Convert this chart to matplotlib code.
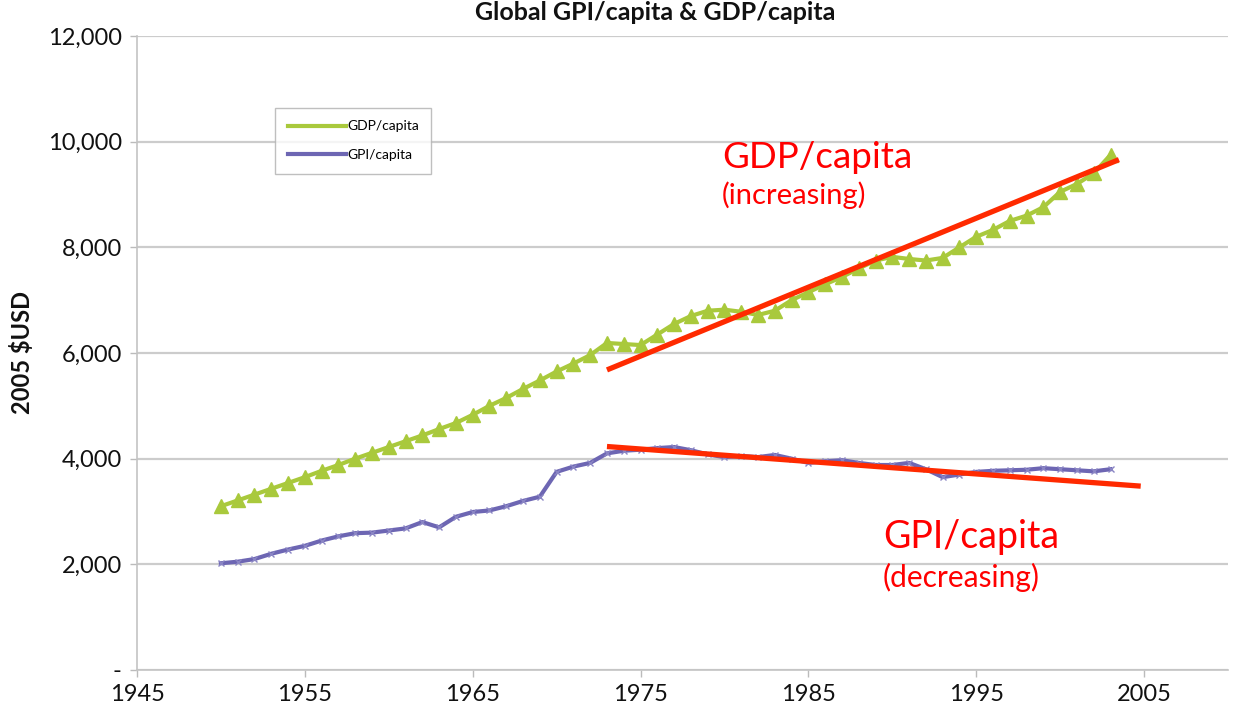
import matplotlib
matplotlib.use("Agg")
import matplotlib.pyplot as plt

years = list(range(1950, 2004))
gdp_per_capita = [3100, 3210, 3320, 3430, 3540, 3650, 3770, 3880, 4000, 4110,
                  4220, 4330, 4440, 4560, 4675, 4830, 5000, 5150, 5320, 5480,
                  5650, 5800, 5960, 6190, 6170, 6150, 6350, 6550, 6700, 6800,
                  6820, 6780, 6720, 6800, 7000, 7150, 7300, 7440, 7600, 7750,
                  7820, 7780, 7750, 7800, 8000, 8200, 8330, 8500, 8600, 8760,
                  9050, 9200, 9400, 9750]
gpi_per_capita = [2020, 2050, 2100, 2200, 2280, 2350, 2450, 2530, 2590, 2600,
                  2640, 2680, 2800, 2700, 2900, 2990, 3020, 3100, 3200, 3280,
                  3750, 3850, 3920, 4100, 4150, 4170, 4200, 4220, 4160, 4080,
                  4030, 4050, 4030, 4070, 4000, 3920, 3950, 3970, 3920, 3880,
                  3880, 3920, 3800, 3650, 3700, 3750, 3770, 3780, 3790, 3820,
                  3800, 3780, 3760, 3800]

gdp_trend_x = [1973.0, 2003.5]
gdp_trend_y = [5680, 9660]
gpi_trend_x = [1973.0, 2004.8]
gpi_trend_y = [4230, 3480]

xticks = [1945, 1955, 1965, 1975, 1985, 1995, 2005]
yticks = [0, 2000, 4000, 6000, 8000, 10000, 12000]
ytick_labels = ['-', '2,000', '4,000', '6,000', '8,000', '10,000', '12,000']

plt.rcParams['font.family'] = ['Lato', 'DejaVu Sans']

W, H = 1241, 705
fig = plt.figure(figsize=(W / 100, H / 100), dpi=100)
fig.patch.set_facecolor('white')
ax = fig.add_axes([137 / W, 1 - 670 / H, (1228 - 137) / W, (670 - 36) / H])

green = '#a9c93c'
purple = '#6d66b3'
red = '#ff2a00'

ax.plot(years, gdp_per_capita, color=green, lw=3, marker='^', ms=10,
        mec=green, mfc=green, label='GDP/capita', zorder=3)
ax.plot(years, gpi_per_capita, color=purple, lw=3, marker='x', ms=5,
        mew=1, mec='#8a85c4', label='GPI/capita', zorder=3)

ax.plot(gdp_trend_x, gdp_trend_y, color=red, lw=3.8, solid_capstyle='butt', zorder=4)
ax.plot(gpi_trend_x, gpi_trend_y, color=red, lw=3.8, solid_capstyle='butt', zorder=4)

ax.set_xlim(1945, 2010)
ax.set_ylim(0, 12000)
ax.set_xticks(xticks)
ax.set_xticklabels([str(x) for x in xticks])
ax.set_yticks(yticks)
ax.set_yticklabels(ytick_labels)
ax.tick_params(axis='both', labelsize=17, colors='#bbbbbb', labelcolor='#111111',
               length=5, width=1)
ax.tick_params(axis='x', pad=5)
ax.tick_params(axis='y', pad=6)
ax.yaxis.grid(True, color='#cccccc', lw=1.6)
ax.set_axisbelow(True)
for s in ['top', 'right']:
    ax.spines[s].set_visible(False)
for s in ['left', 'bottom']:
    ax.spines[s].set_color('#c4c4c4')
    ax.spines[s].set_linewidth(1.2)

ax.set_ylabel('2005 $USD', fontsize=17, fontweight='bold', labelpad=10, color='#111111')

leg = ax.legend(loc='upper left', bbox_to_anchor=((275 - 137) / (1228 - 137), 1 - (108 - 36) / (670 - 36)),
                fontsize=10, frameon=True, fancybox=False, handlelength=4.2,
                borderpad=0.9, labelspacing=1.2, handletextpad=0.1, borderaxespad=0)
leg.get_frame().set_edgecolor('#b0b0b0')
leg.get_frame().set_linewidth(1.0)
for h in leg.get_lines():
    h.set_marker('')

fig.text(655 / W, 1 - 12 / H, 'Global GPI/capita & GDP/capita', ha='center', va='center',
         fontsize=18, fontweight='bold', color='#111111')

fig.text(722 / W, 1 - 158 / H, 'GDP/capita', ha='left', va='center', fontsize=26.5, color='#ff0000')
fig.text(722 / W, 1 - 195 / H, '(increasing)', ha='left', va='center', fontsize=21, color='#ff0000')
fig.text(883 / W, 1 - 537 / H, 'GPI/capita', ha='left', va='center', fontsize=27, color='#ff0000')
fig.text(883 / W, 1 - 577 / H, '(decreasing)', ha='left', va='center', fontsize=21.5, color='#ff0000')

fig.savefig('out.png', dpi=100, facecolor='white')
